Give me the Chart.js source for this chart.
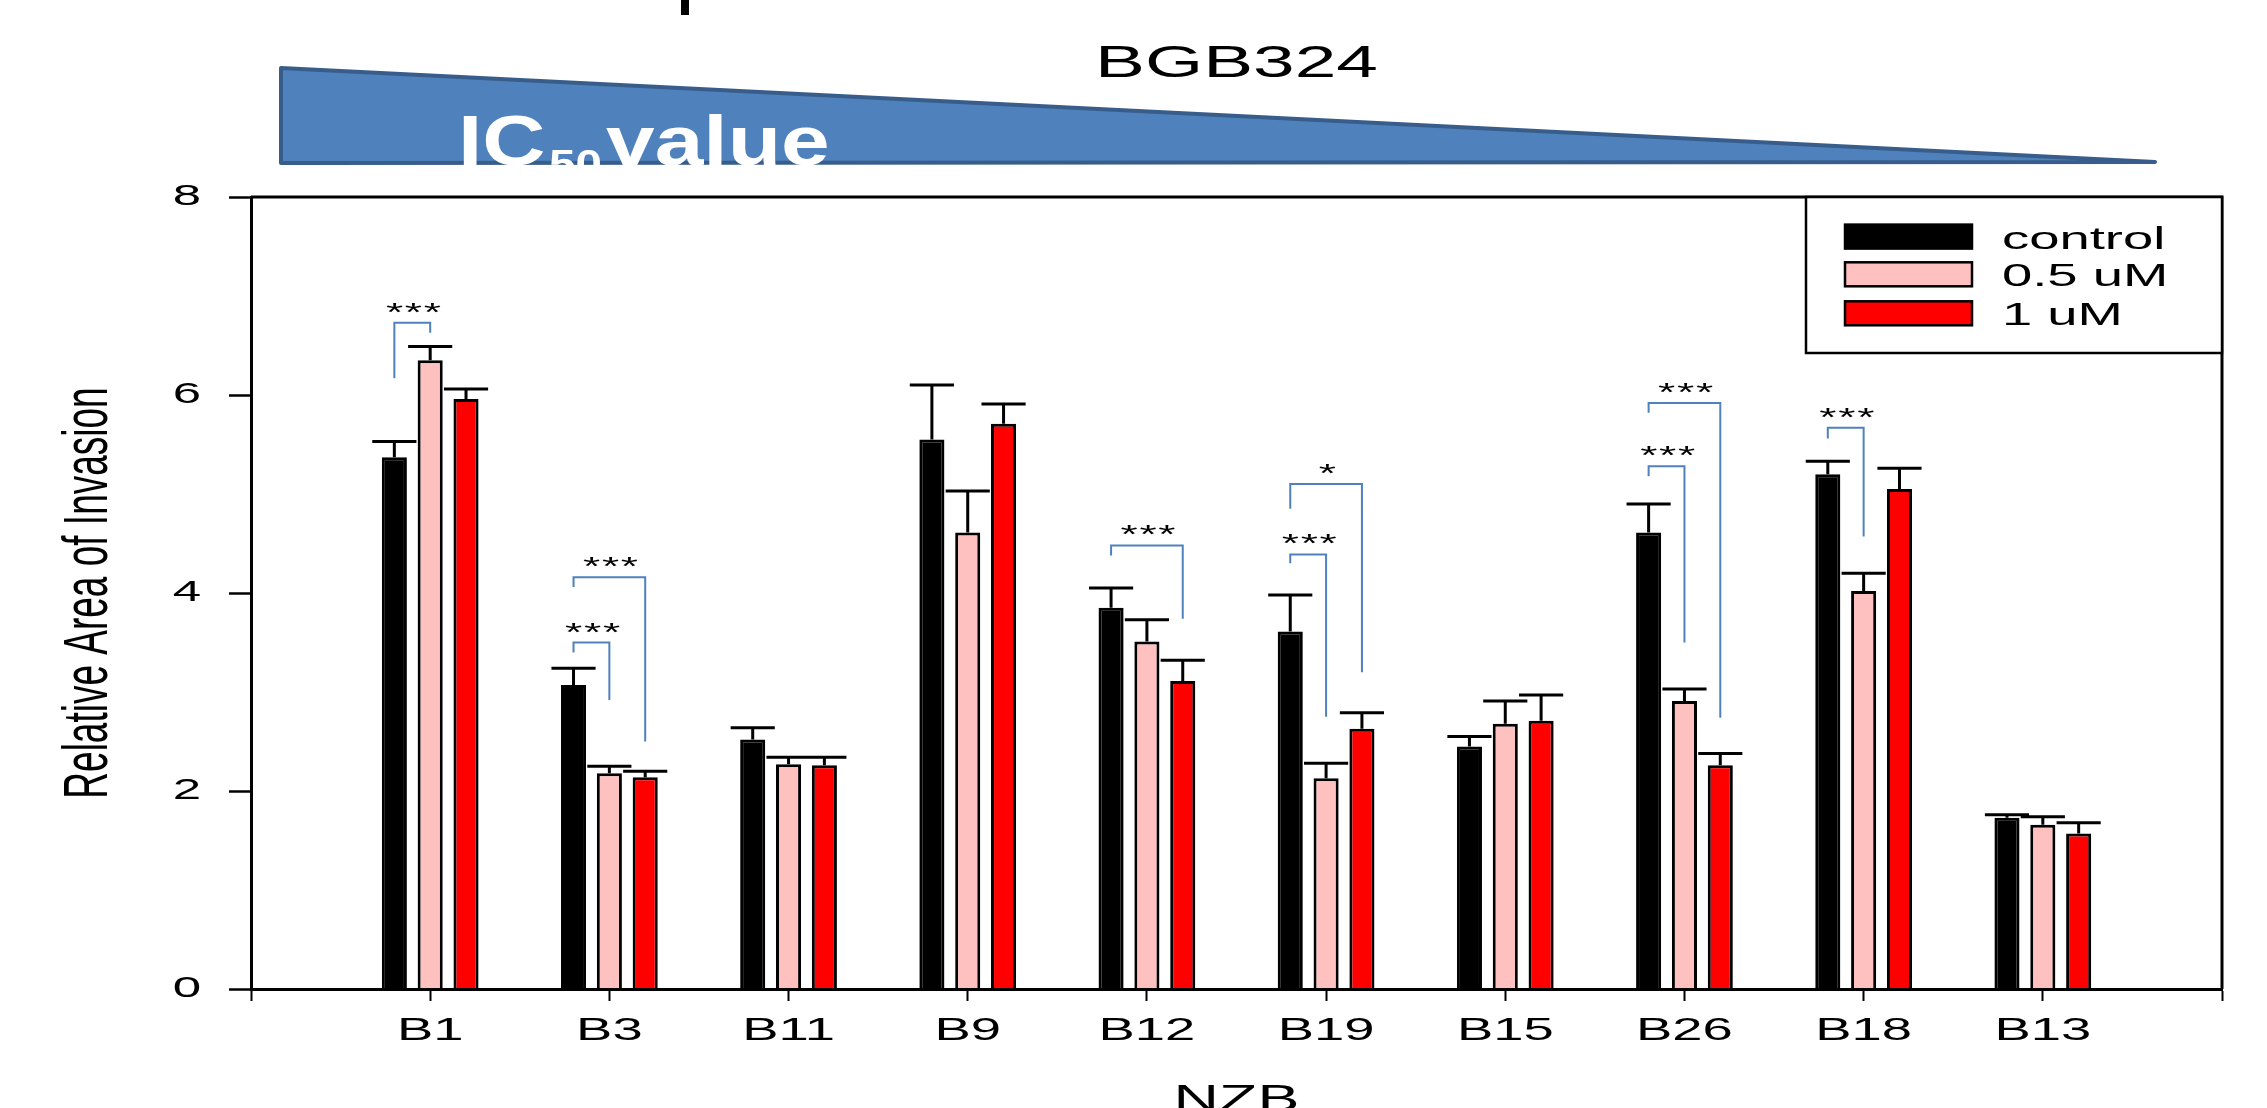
<!DOCTYPE html>
<html>
<head>
<meta charset="utf-8">
<title>Relative Area of Invasion - BGB324</title>
<script src="https://cdn.jsdelivr.net/npm/chart.js@4.4.1/dist/chart.umd.min.js"></script>
<style>
  html, body { margin: 0; padding: 0; background: #fff; overflow: hidden; }
  #wrap { width: 2267px; height: 1108px; position: relative; }
</style>
</head>
<body>
<div id="wrap"><canvas id="chart"></canvas></div>
<script>
const groups = ['B1', 'B3', 'B11', 'B9', 'B12', 'B19', 'B15', 'B26', 'B18', 'B13'];
const seriesNames = ['control', '0.5 uM', '1 uM'];
const control = [5.37, 3.07, 2.52, 5.55, 3.85, 3.61, 2.45, 4.61, 5.20, 1.73];
const controlErr = [0.16, 0.17, 0.12, 0.55, 0.20, 0.37, 0.10, 0.29, 0.13, 0.03];
const halfUM = [6.35, 2.18, 2.27, 4.61, 3.51, 2.13, 2.68, 2.91, 4.02, 1.66];
const halfUMErr = [0.14, 0.07, 0.07, 0.42, 0.22, 0.15, 0.23, 0.12, 0.18, 0.08];
const oneUM = [5.96, 2.14, 2.26, 5.71, 3.11, 2.63, 2.71, 2.26, 5.05, 1.57];
const oneUMErr = [0.10, 0.06, 0.08, 0.20, 0.21, 0.16, 0.26, 0.12, 0.21, 0.11];
const yTicks = [0, 2, 4, 6, 8];

// significance brackets: group index, compared bar (1 = 0.5 uM, 2 = 1 uM),
// bottom of the control leg, bracket top, bottom of the other leg (data units)
const sigGroup = [0, 1, 1, 4, 5, 5, 7, 7, 8];
const sigTo = [1, 1, 2, 2, 1, 2, 1, 2, 1];
const sigLeftEnd = [6.17, 3.40, 4.06, 4.38, 4.30, 4.85, 5.18, 5.82, 5.56];
const sigTop = [6.73, 3.50, 4.16, 4.48, 4.39, 5.10, 5.28, 5.92, 5.67];
const sigRightEnd = [6.63, 2.92, 2.50, 3.74, 2.75, 3.20, 3.50, 2.74, 4.57];
const sigText = ['***', '***', '***', '***', '***', '*', '***', '***', '***'];

const colors = ['#000000', '#FFC0C0', '#FF0000'];
const FONT = '"Liberation Sans", Arial, sans-serif';

const canvas = document.getElementById('chart');
const ctx = canvas.getContext('2d');

// the source figure is stretched sideways, so every text is drawn wider than normal
const rawFillText = ctx.fillText;
ctx.textStretch = 1.7;
ctx.fillText = function (text, x, y, maxWidth) {
    const m = this.getTransform();
    const p = m.transformPoint(new DOMPoint(x, y));
    this.save();
    this.setTransform(new DOMMatrix().translate(p.x, p.y).scale(this.textStretch, 1).translate(-p.x, -p.y).multiply(m));
    if (maxWidth === undefined) rawFillText.call(this, text, x, y);
    else rawFillText.call(this, text, x, y, maxWidth);
    this.restore();
};

const pad = arr => [null, ...arr, null];
const errs = [controlErr, halfUMErr, oneUMErr];

const decor = {
    id: 'decor',
    beforeDraw(chart) {
        const c = chart.ctx;
        // IC50 wedge
        c.save();
        c.beginPath();
        c.moveTo(281, 68);
        c.lineTo(2155, 162);
        c.lineTo(281, 163);
        c.closePath();
        c.fillStyle = '#4F81BD';
        c.fill();
        c.lineWidth = 4;
        c.lineJoin = 'round';
        c.strokeStyle = '#385D8A';
        c.stroke();

        c.fillStyle = '#fff';
        c.textAlign = 'left';
        c.textBaseline = 'alphabetic';
        c.textStretch = 1.25;
        c.font = 'bold 70px ' + FONT;
        c.fillText('IC', 458, 165);
        c.font = 'bold 38px ' + FONT;
        c.fillText('50', 549, 177);
        c.font = 'bold 70px ' + FONT;
        c.fillText('value', 606, 165);
        c.textStretch = 1.7;
        c.restore();
    },
    afterDatasetsDraw(chart) {
        const c = chart.ctx;
        const y = chart.scales.y;
        c.save();
        // error bars (upper only)
        c.strokeStyle = '#000';
        c.lineWidth = 3;
        c.beginPath();
        chart.data.datasets.forEach((ds, i) => {
            chart.getDatasetMeta(i).data.forEach((bar, j) => {
                const v = ds.data[j];
                if (v == null) return;
                const top = y.getPixelForValue(v + errs[i][j - 1]);
                const half = bar.width * 0.88;
                c.moveTo(bar.x, bar.y);
                c.lineTo(bar.x, top);
                c.moveTo(bar.x - half, top);
                c.lineTo(bar.x + half, top);
            });
        });
        c.stroke();

        // significance brackets
        c.strokeStyle = '#4F81BD';
        c.lineWidth = 2;
        c.fillStyle = '#000';
        c.font = '26px ' + FONT;
        c.letterSpacing = '1px';
        c.textAlign = 'center';
        c.textBaseline = 'alphabetic';
        sigGroup.forEach((g, k) => {
            const x1 = chart.getDatasetMeta(0).data[g + 1].x;
            const x2 = chart.getDatasetMeta(sigTo[k]).data[g + 1].x;
            const yt = y.getPixelForValue(sigTop[k]);
            c.beginPath();
            c.moveTo(x1, y.getPixelForValue(sigLeftEnd[k]));
            c.lineTo(x1, yt);
            c.lineTo(x2, yt);
            c.lineTo(x2, y.getPixelForValue(sigRightEnd[k]));
            c.stroke();
            c.fillText(sigText[k], (x1 + x2) / 2 + 2, yt - 2);
        });
        c.restore();
    },
    afterDraw(chart) {
        const c = chart.ctx;
        const a = chart.chartArea;
        c.save();
        // top and right frame lines
        c.strokeStyle = '#000';
        c.lineWidth = 3;
        c.beginPath();
        c.moveTo(a.left, a.top);
        c.lineTo(a.right, a.top);
        c.lineTo(a.right, a.bottom);
        c.stroke();

        // legend box
        const bw = 416, bh = 156;
        const bx = a.right - bw, by = a.top;
        c.fillStyle = '#fff';
        c.fillRect(bx, by, bw, bh);
        c.lineWidth = 2.5;
        c.strokeRect(bx, by, bw, bh);
        const rows = [51.6, 89.3, 128.3];
        c.font = '32px ' + FONT;
        c.textAlign = 'left';
        c.textBaseline = 'alphabetic';
        chart.data.datasets.forEach((ds, i) => {
            const bottom = by + rows[i];
            c.fillStyle = ds.backgroundColor;
            c.fillRect(bx + 39, bottom - 24, 127, 24);
            c.lineWidth = 2.5;
            c.strokeStyle = '#000';
            c.strokeRect(bx + 39, bottom - 24, 127, 24);
            c.fillStyle = '#000';
            c.fillText(ds.label, bx + 196, bottom);
        });

        // drug name above the plot
        c.font = '44px ' + FONT;
        c.textAlign = 'center';
        c.fillText('BGB324', (a.left + a.right) / 2, 77);

        // cut-off stroke of a caption above the figure
        c.fillRect(681, 0, 8, 15);
        c.restore();
    }
};

new Chart(canvas, {
    type: 'bar',
    data: {
        labels: ['', ...groups, ''],
        datasets: [control, halfUM, oneUM].map((vals, i) => ({
            label: seriesNames[i],
            data: pad(vals),
            backgroundColor: colors[i],
            borderColor: '#000',
            borderWidth: 3,
            categoryPercentage: 0.6,
            barPercentage: 0.7
        }))
    },
    options: {
        responsive: true,
        maintainAspectRatio: false,
        animation: false,
        layout: { padding: { left: 0, top: 197, right: 45, bottom: 0 } },
        plugins: {
            legend: { display: false },
            tooltip: { enabled: false }
        },
        scales: {
            x: {
                type: 'category',
                offset: false,
                grid: { offset: false, drawOnChartArea: false, drawTicks: true, tickLength: 12, tickWidth: 2, tickColor: '#000' },
                border: { display: true, color: '#000', width: 3, z: 1 },
                ticks: { color: '#000', font: { family: FONT, size: 32 }, padding: 11, autoSkip: false, maxRotation: 0 },
                title: { display: true, text: 'NZB', color: '#000', font: { family: FONT, size: 37, lineHeight: 0.4 }, padding: 0 },
                afterFit: s => { s.height = 119; }
            },
            y: {
                min: 0,
                max: 8,
                afterBuildTicks: s => { s.ticks = yTicks.map(v => ({ value: v })); },
                grid: { drawOnChartArea: false, tickLength: 22, tickWidth: 2.5, tickColor: '#000' },
                border: { display: true, color: '#000', width: 3 },
                ticks: { color: '#000', font: { family: FONT, size: 30 }, padding: 28 },
                title: { display: true, text: 'Relative Area of Invasion', color: '#000', font: { family: FONT, size: 37 }, padding: { top: 67, bottom: 0 } },
                afterFit: s => { s.width = 251; }
            }
        }
    },
    plugins: [decor]
});
</script>
</body>
</html>
